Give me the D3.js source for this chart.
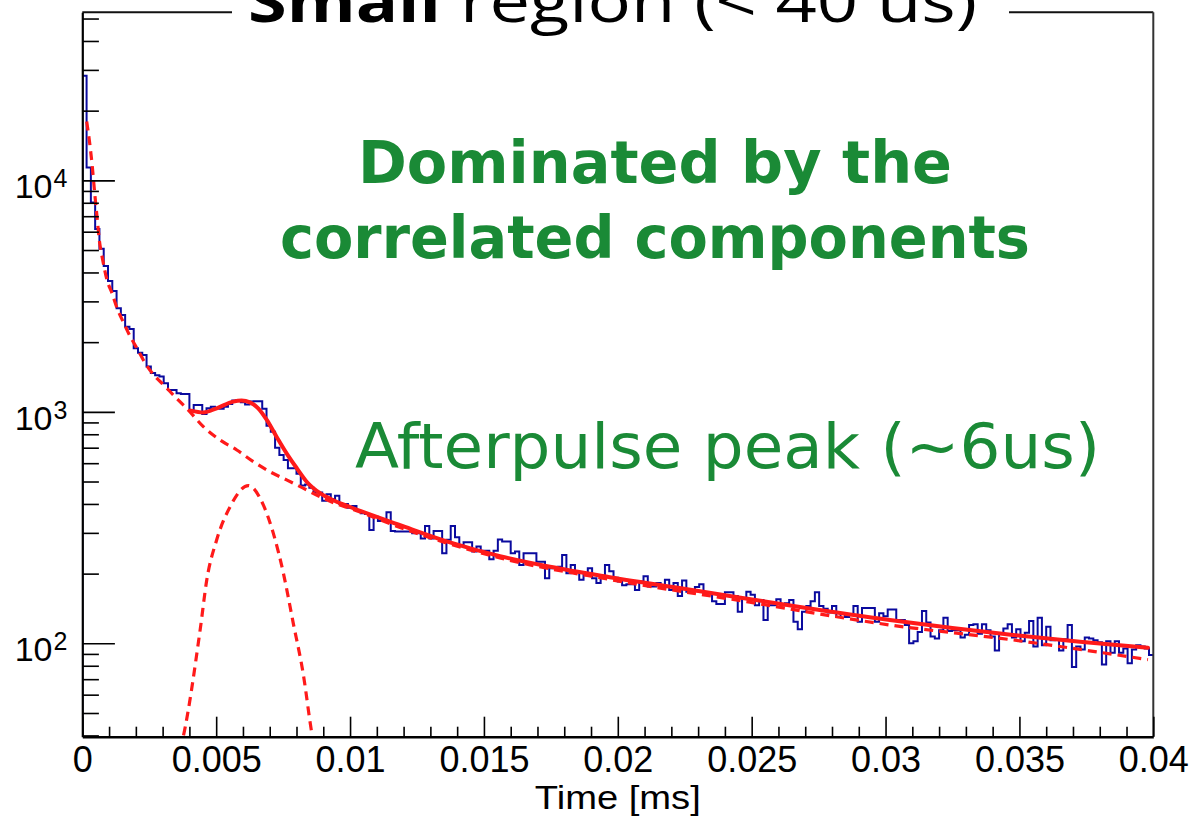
<!DOCTYPE html>
<html>
<head>
<meta charset="utf-8">
<script src="https://cdn.jsdelivr.net/npm/d3@7"></script>
<style>
  html, body { margin: 0; padding: 0; background: #fff; }
  svg { display: block; }
</style>
</head>
<body>
<svg id="chart" width="1195" height="816"></svg>
<script>
// Time spectrum, 250 bins of 0.16 us between 0 and 0.04 ms (counts per bin)
const binLow = 0;
const binHigh = 0.04;
const counts = [
  28300, 11360, 8020, 6170, 5060, 4270, 3670, 3330, 2800, 2620,
  2330, 2280, 1880, 1800, 1760, 1570, 1470, 1440, 1420, 1330,
  1244, 1244, 1203, 1195, 1195, 1010, 1071, 1071, 978, 1036,
  1053, 1036, 1030, 1053, 1080, 1120, 1125, 1100, 1075, 1107,
  1112, 1110, 1030, 870, 820, 700, 651, 620, 570, 570,
  540, 480, 485, 470, 448, 448, 413, 440, 420, 434,
  400, 400, 385, 392, 373, 365, 362, 309, 352, 338,
  338, 368, 306, 304, 304, 304, 304, 299, 299, 284,
  321, 284, 306, 306, 245, 280, 321, 287, 266, 273,
  273, 249, 262, 251, 251, 231, 251, 281, 275, 275,
  245, 249, 218, 245, 245, 245, 225, 225, 191, 211,
  211, 214, 241, 201, 218, 204, 188, 199, 211, 191,
  182, 194, 218, 205, 192, 185, 178, 180, 180, 170,
  185, 195, 176, 176, 182, 175, 188, 170, 182, 160,
  187, 167, 170, 175, 180, 164, 165, 152, 148, 148,
  166, 166, 160, 137, 157, 167, 162, 146, 154, 126,
  146, 146, 155, 146, 149, 154, 124, 115, 137, 145,
  152, 166, 145, 141, 136, 145, 130, 135, 130, 133,
  145, 124, 142, 142, 142, 124, 135, 131, 140, 140,
  126, 126, 120, 100, 102, 112, 138, 123, 107, 105,
  114, 129, 113, 114, 114, 106, 109, 120, 121, 110,
  121, 114, 107, 93, 110, 116, 121, 106, 115, 102,
  111, 125, 97, 129, 98, 118, 103, 104, 93, 104,
  120, 79, 97, 94, 106, 105, 103, 101, 81, 102,
  91, 102, 91, 95, 82, 94, 98, 97, 95, 89
];

// Total fit (solid), [time ms, counts]
const fitTotal = [
  [0.00405, 1012], [0.00452, 994], [0.00502, 1036], [0.00564, 1107],
  [0.00595, 1118], [0.00626, 1098], [0.00657, 1036], [0.00689, 923],
  [0.00726, 779], [0.00763, 662], [0.00801, 571], [0.00838, 499],
  [0.00888, 445], [0.00944, 412], [0.0100, 388], [0.01187, 324],
  [0.01373, 273], [0.0156, 238], [0.01747, 214], [0.0197, 193],
  [0.02307, 168], [0.0268, 143.5], [0.03016, 126], [0.03476, 108.6],
  [0.03726, 101.6], [0.0398, 95.7]
];

// Correlated component (dashed), [time ms, counts]
const fitCorrelated = [
  [0.000164, 17950], [0.000261, 14960], [0.000373, 11470], [0.000463, 8805],
  [0.000549, 6975], [0.000635, 5533], [0.000762, 4534], [0.000922, 3715],
  [0.00111, 3254], [0.0013, 2803], [0.00155, 2415], [0.00179, 2114],
  [0.00204, 1883], [0.00235, 1622], [0.00267, 1444], [0.00304, 1307],
  [0.00347, 1160], [0.00397, 1014], [0.00452, 863], [0.00514, 756],
  [0.00577, 684], [0.00639, 609], [0.00701, 551], [0.00763, 508],
  [0.00825, 468], [0.00888, 430], [0.0095, 400], [0.0100, 383],
  [0.01187, 316.5], [0.0156, 233.7], [0.0197, 188.7], [0.02493, 150.5],
  [0.03016, 120], [0.03476, 103.4], [0.0398, 85]
];

// Afterpulse peak component (dashed), [time ms, counts]
const fitAfterpulse = [
  [0.0035, 30], [0.00377, 39.5], [0.0044, 114], [0.00465, 188],
  [0.00502, 280], [0.00552, 389], [0.0062, 480], [0.00676, 396],
  [0.00713, 300], [0.00751, 201], [0.00788, 122], [0.00825, 74],
  [0.00857, 41], [0.0088, 30]
];

// Axis ticks and labels
const xMajorTicks = [0, 0.005, 0.01, 0.015, 0.02, 0.025, 0.03, 0.035, 0.04];
const xTickLabels = ["0", "0.005", "0.01", "0.015", "0.02", "0.025", "0.03", "0.035", "0.04"];
const yDecades = [100, 1000, 10000];
const yDecadeExponents = ["2", "3", "4"];
const xTitle = "Time [ms]";
const titleBold = "Small";
const titleRest = "region (< 40 us)";
const noteLines = ["Dominated by the", "correlated components"];
const peakNote = "Afterpulse peak (~6us)";

// ---- layout ----
const frame = { left: 82.3, right: 1153.3, top: 12.3, bottom: 736.7 };
const svg = d3.select("#chart");

const x = d3.scaleLinear().domain([binLow, binHigh]).range([frame.left, frame.right]);
const y = d3.scaleLog().domain([39.5, 53200]).range([frame.bottom, frame.top]);

svg.append("defs").append("clipPath").attr("id", "plotArea")
  .append("rect")
  .attr("x", frame.left).attr("y", frame.top)
  .attr("width", frame.right - frame.left).attr("height", frame.bottom - frame.top);

// ---- histogram as a step outline ----
const nBins = counts.length;
const binWidth = (binHigh - binLow) / nBins;
const steps = [];
counts.forEach((c, i) => {
  steps.push([binLow + i * binWidth, c]);
  steps.push([binLow + (i + 1) * binWidth, c]);
});
const stepLine = d3.line().x(d => x(d[0])).y(d => y(d[1]));
const plot = svg.append("g").attr("clip-path", "url(#plotArea)");
plot.append("path")
  .attr("d", "M" + x(binLow) + "," + frame.bottom + stepLine(steps).replace(/^M/, "L"))
  .attr("fill", "none")
  .attr("stroke", "#0a0a9e")
  .attr("stroke-width", 2)
  .attr("stroke-linejoin", "miter");

// ---- fit curves ----
const smooth = d3.line().x(d => x(d[0])).y(d => y(d[1])).curve(d3.curveMonotoneX);
plot.append("path").attr("d", smooth(fitAfterpulse))
  .attr("fill", "none").attr("stroke", "#ff1a1a")
  .attr("stroke-width", 3.2).attr("stroke-dasharray", "9,6");
plot.append("path").attr("d", smooth(fitCorrelated))
  .attr("fill", "none").attr("stroke", "#ff1a1a")
  .attr("stroke-width", 3.2).attr("stroke-dasharray", "9,6");
plot.append("path").attr("d", smooth(fitTotal))
  .attr("fill", "none").attr("stroke", "#ff1a1a")
  .attr("stroke-width", 4).attr("stroke-linecap", "round");

// ---- frame ----
svg.append("line").attr("x1", frame.left).attr("x2", frame.right)
  .attr("y1", frame.top).attr("y2", frame.top)
  .attr("stroke", "#111").attr("stroke-width", 2);
svg.append("line").attr("x1", frame.right).attr("x2", frame.right)
  .attr("y1", frame.top).attr("y2", frame.bottom)
  .attr("stroke", "#333").attr("stroke-width", 2);

// ---- x axis: minor ticks every 0.001, major every 0.005 ----
const xMinor = d3.range(0, 41).map(i => i * 0.001).filter(v => !xMajorTicks.some(m => Math.abs(m - v) < 1e-9));
svg.append("g").attr("transform", `translate(0,${frame.bottom})`)
  .call(d3.axisBottom(x).tickValues(xMinor).tickSize(-10).tickFormat(""))
  .call(g => g.select(".domain").remove())
  .call(g => g.selectAll("line").attr("stroke", "#000").attr("stroke-width", 1.6));
const xAxis = svg.append("g").attr("transform", `translate(0,${frame.bottom})`)
  .call(d3.axisBottom(x).tickValues(xMajorTicks).tickSizeInner(-20).tickSizeOuter(0)
    .tickPadding(35).tickFormat((d, i) => xTickLabels[i]));
xAxis.select(".domain").attr("stroke", "#000").attr("stroke-width", 2.5);
xAxis.selectAll(".tick line").attr("stroke", "#000").attr("stroke-width", 1.6);
xAxis.selectAll(".tick text")
  .attr("dy", 0)
  .attr("fill", "#000")
  .style("font-family", "'Liberation Sans', Arial, sans-serif")
  .style("font-size", "36px");

svg.append("text")
  .attr("x", (frame.left + frame.right) / 2).attr("y", 808.5)
  .attr("text-anchor", "middle")
  .attr("textLength", 166).attr("lengthAdjust", "spacingAndGlyphs")
  .style("font-family", "'Liberation Sans', Arial, sans-serif")
  .style("font-size", "32.5px")
  .text(xTitle);

// ---- y axis (log): minor ticks 2..9 per decade ----
const yMinor = [];
[10, 100, 1000, 10000].forEach(dec => {
  for (let k = 2; k <= 9; k++) {
    const v = k * dec;
    if (v >= y.domain()[0] && v <= y.domain()[1]) yMinor.push(v);
  }
});
svg.append("g").attr("transform", `translate(${frame.left},0)`)
  .call(d3.axisLeft(y).tickValues(yMinor).tickSize(-16.6).tickFormat(""))
  .call(g => g.select(".domain").remove())
  .call(g => g.selectAll("line").attr("stroke", "#000").attr("stroke-width", 1.6));
const yAxis = svg.append("g").attr("transform", `translate(${frame.left},0)`)
  .call(d3.axisLeft(y).tickValues(yDecades).tickSizeInner(-32.6).tickSizeOuter(0).tickFormat(""));
yAxis.select(".domain").attr("stroke", "#000").attr("stroke-width", 2.2);
yAxis.selectAll(".tick line").attr("stroke", "#000").attr("stroke-width", 1.6);

const yLabels = svg.append("g").style("font-family", "'Liberation Sans', Arial, sans-serif");
yDecades.forEach((v, i) => {
  const ty = y(v);
  yLabels.append("text").attr("x", 52.5).attr("y", ty + 18)
    .attr("text-anchor", "end").style("font-size", "34px").text("10");
  yLabels.append("text").attr("x", 53.5).attr("y", ty + 7)
    .attr("text-anchor", "start").style("font-size", "25px").text(yDecadeExponents[i]);
});

// ---- title, sitting on the top edge of the frame ----
svg.append("rect").attr("x", 232).attr("y", -2).attr("width", 777).attr("height", 24).attr("fill", "#fff");
svg.append("text").attr("x", 248).attr("y", 22)
  .attr("textLength", 193).attr("lengthAdjust", "spacingAndGlyphs")
  .style("font-family", "'Open Sans', sans-serif").style("font-weight", "bold").style("font-size", "58px")
  .text(titleBold);
svg.append("text").attr("x", 460).attr("y", 22)
  .attr("textLength", 517).attr("lengthAdjust", "spacingAndGlyphs")
  .style("font-family", "'Open Sans', sans-serif").style("font-size", "58px")
  .text(titleRest);

// ---- annotations ----
const green = "#1a8a36";
svg.append("text").attr("x", 358).attr("y", 183)
  .attr("textLength", 594).attr("lengthAdjust", "spacingAndGlyphs")
  .style("font-family", "'DejaVu Sans', sans-serif").style("font-weight", "bold").style("font-size", "58px")
  .attr("fill", green).text(noteLines[0]);
svg.append("text").attr("x", 280).attr("y", 258)
  .attr("textLength", 750).attr("lengthAdjust", "spacingAndGlyphs")
  .style("font-family", "'DejaVu Sans', sans-serif").style("font-weight", "bold").style("font-size", "58px")
  .attr("fill", green).text(noteLines[1]);
svg.append("text").attr("x", 355).attr("y", 468)
  .attr("textLength", 745).attr("lengthAdjust", "spacingAndGlyphs")
  .style("font-family", "'DejaVu Sans', sans-serif").style("font-size", "62px")
  .attr("fill", green).text(peakNote);
</script>
</body>
</html>
